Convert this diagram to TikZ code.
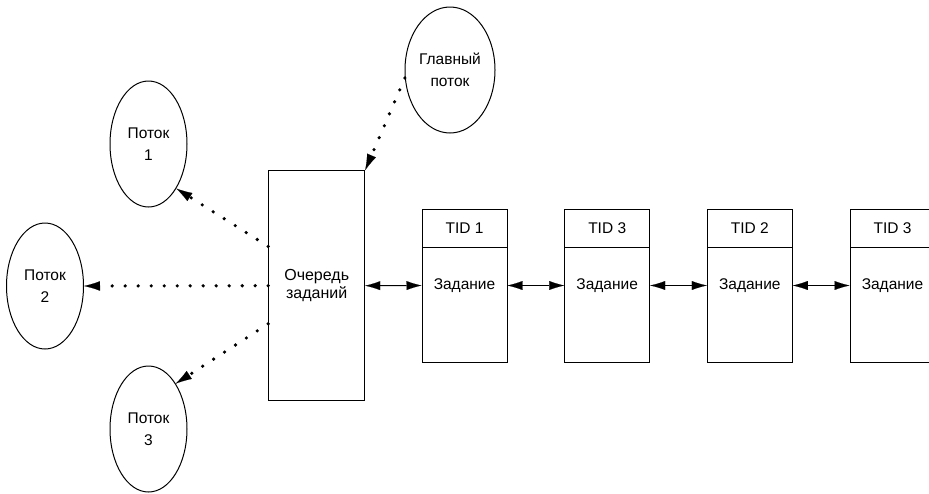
\documentclass[tikz,border=0pt]{standalone}
\usepackage{fontspec}
\setmainfont{Liberation Sans}
\usetikzlibrary{shapes.geometric,arrows.meta,calc}
\begin{document}
\begin{tikzpicture}[x=1pt,y=-1pt,
  base/.style={line width=1pt, draw=black},
  thr/.style={base, ellipse, minimum width=77pt, minimum height=126pt, inner sep=0pt, align=center, font=\fontsize{15.5}{22}\selectfont},
  queuebox/.style={base, rectangle, minimum width=96pt, minimum height=230pt, inner sep=0pt, align=center, font=\fontsize{16}{17.5}\selectfont},
  taskbox/.style={base, rectangle, minimum width=85pt, minimum height=153pt, inner sep=0pt},
  hdrbox/.style={base, rectangle, minimum width=85pt, minimum height=38pt, inner sep=0pt, anchor=north, font=\fontsize{15.5}{18}\selectfont},
  tasktxt/.style={inner sep=0pt, font=\fontsize{15.5}{18}\selectfont},
  dotarrow/.style={line width=3.6pt, line cap=round, dash pattern=on 0pt off 13pt, -{Latex[length=16pt,width=9.5pt,line width=0.1pt]}},
  dbl/.style={line width=1pt, {Latex[length=15pt,width=9pt,line width=0.1pt]}-{Latex[length=15pt,width=9pt,line width=0.1pt]}}
]
\useasboundingbox (0,0) rectangle (929,493);
\clip (0,0) rectangle (929,493);

% threads
\node[thr] (p1) at (148.5,144) {Поток\\1};
\node[thr] (p2) at (45,286) {Поток\\2};
\node[thr] (p3) at (148.5,429) {Поток\\3};
\node[thr, minimum width=90pt] (m) at (450,70) {Главный\\поток};

% queue
\node[queuebox] (q) at (316.7,285.7) {Очередь\\заданий};
\coordinate (qa) at ($(q.north west)!0.33!(q.south west)$);
\coordinate (qc) at ($(q.north west)!0.665!(q.south west)$);

% tasks
\foreach \i/\x/\t in {1/464.5/TID 1, 2/607.2/TID 3, 3/749.8/TID 2, 4/892.5/TID 3}{
  \node[taskbox] (t\i) at (\x,285.5) {};
  \node[hdrbox] (h\i) at (t\i.north) {\t};
  \node[tasktxt] (z\i) at (t\i.center) {Задание};
}

% connectors
\draw[dotarrow] (qa) -- (p1.-58);
\draw[dotarrow] (q.west) -- (p2.east);
\draw[dotarrow] (qc) -- (p3.59);
\draw[dotarrow] (m.190) -- (q.north east);

\draw[dbl] (q.east) -- (t1.west);
\draw[dbl] (t1.east) -- (t2.west);
\draw[dbl] (t2.east) -- (t3.west);
\draw[dbl] (t3.east) -- (t4.west);
\end{tikzpicture}
\end{document}
